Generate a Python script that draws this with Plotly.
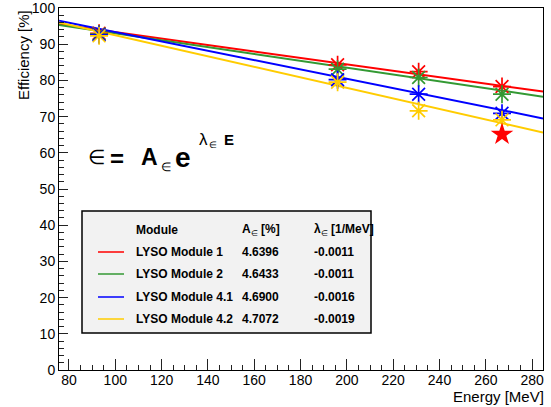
import plotly.graph_objects as go

# ---------------- data ----------------
energy = [93, 196, 231, 267]
modules = ["LYSO Module 1", "LYSO Module 2", "LYSO Module 4.1", "LYSO Module 4.2"]
eff_m1 = [93.0, 84.3, 82.4, 78.3]
eff_m2 = [92.8, 83.1, 80.8, 76.2]
eff_m41 = [92.6, 80.2, 76.2, 70.9]
eff_m42 = [92.3, 79.5, 71.6, 69.1]
efficiencies = [eff_m1, eff_m2, eff_m41, eff_m42]

fit_energy = [75.7, 284.7]
fit_m1 = [95.5, 76.9]
fit_m2 = [95.3, 75.5]
fit_m41 = [96.5, 69.5]
fit_m42 = [96.0, 65.6]
fits = [fit_m1, fit_m2, fit_m41, fit_m42]

a_values = ["4.6396", "4.6433", "4.6900", "4.7072"]
lambda_values = ["-0.0011", "-0.0011", "-0.0016", "-0.0019"]

special_energy = [267]
special_eff = [65.1]

colors = ["#ff0000", "#339933", "#0000ff", "#ffcc00"]

x_range = [75.7, 284.7]
y_range = [0, 100]

# ---------------- layout geometry ----------------
W, H = 551, 407
ML, MR, MT, MB = 59, 8, 8, 37
PW, PH = W - ML - MR, H - MT - MB


def px(xp):
    return (xp - ML) / PW


def py(yp):
    return (H - MB - yp) / PH


FONT = "Liberation Sans, Arial, sans-serif"

fig = go.Figure()

for i in range(len(modules)):
    fig.add_trace(go.Scatter(
        x=fit_energy, y=fits[i], mode="lines",
        line=dict(color=colors[i], width=2), showlegend=False, hoverinfo="skip"))

for i in range(len(modules)):
    fig.add_trace(go.Scatter(
        x=energy, y=efficiencies[i], mode="markers",
        marker=dict(symbol="asterisk-open", size=15, color=colors[i],
                    line=dict(color=colors[i], width=1.7)),
        showlegend=False, name=modules[i]))

fig.add_trace(go.Scatter(
    x=special_energy, y=special_eff, mode="markers",
    marker=dict(symbol="star", size=17, color="#ff0000", line=dict(width=0)),
    showlegend=False))

# ---------------- legend box ----------------
box = dict(x0=82, x1=371, y0=211, y1=333)
shapes = [dict(type="rect", xref="paper", yref="paper",
               x0=px(box["x0"]), x1=px(box["x1"]),
               y0=py(box["y1"]), y1=py(box["y0"]),
               line=dict(color="black", width=1.5), fillcolor="#f2f2f2",
               layer="below")]

annotations = []
header_y = 230
row_y = [252, 274, 297, 319]
col_name, col_a, col_l = 134, 240, 312


def txt(text, x, y, size=12, anchor="left", color="black"):
    annotations.append(dict(
        text=text, x=px(x), y=py(y), xref="paper", yref="paper",
        xanchor=anchor, yanchor="middle", showarrow=False,
        font=dict(family=FONT, size=size, color=color)))


txt("<b>Module</b>", col_name, header_y)
txt("<b>A</b><sub>∈</sub><b> [%]</b>", col_a, header_y)
txt("<b>λ</b><sub>∈</sub><b> [1/MeV]</b>", col_l, header_y)

for i in range(len(modules)):
    shapes.append(dict(type="line", xref="paper", yref="paper",
                       x0=px(98), x1=px(124), y0=py(row_y[i]), y1=py(row_y[i]),
                       line=dict(color=colors[i], width=1.5)))
    txt("<b>" + modules[i] + "</b>", col_name, row_y[i])
    txt("<b>" + a_values[i] + "</b>", col_a, row_y[i])
    txt("<b>" + lambda_values[i] + "</b>", col_l, row_y[i])

# ---------------- formula ----------------
txt("∈", 86, 157, size=20)
txt("<b>=</b>", 108, 158, size=24)
txt("<b>A</b>", 139, 157, size=23)
txt("∈", 159, 167, size=12)
txt("<b>e</b>", 173, 157, size=28)
txt("λ", 197, 139, size=17)
txt("∈", 207, 145, size=9)
txt("<b>E</b>", 222, 139, size=15)

fig.update_layout(
    width=W, height=H,
    margin=dict(l=ML, r=MR, t=MT, b=MB, autoexpand=False),
    paper_bgcolor="white", plot_bgcolor="white",
    font=dict(family=FONT, color="black"),
    shapes=shapes, annotations=annotations,
    xaxis=dict(range=x_range, tick0=80, dtick=20, ticks="inside", ticklen=11,
               tickcolor="#222", tickwidth=1, showgrid=False, zeroline=False,
               showline=True, linecolor="black", linewidth=1, mirror=True,
               tickfont=dict(size=14, family=FONT), ticklabeloverflow="allow",
               ticklabelstandoff=-3, automargin=False,
               minor=dict(dtick=5, tick0=80, ticks="inside", ticklen=5,
                          tickcolor="#222", showgrid=False)),
    yaxis=dict(range=y_range, tick0=0, dtick=10, ticks="inside", ticklen=9,
               tickcolor="#222", tickwidth=1, showgrid=False, zeroline=False,
               showline=True, linecolor="black", linewidth=1, mirror=True,
               tickfont=dict(size=14, family=FONT), ticklabeloverflow="allow",
               automargin=False,
               minor=dict(dtick=2, tick0=0, ticks="inside", ticklen=5,
                          tickcolor="#222", showgrid=False)),
)

# axis titles (ROOT style: aligned to the end of the axis)
fig.add_annotation(text="Energy [MeV]", xref="paper", yref="paper",
                   x=px(546), y=py(396), xanchor="right", yanchor="middle",
                   showarrow=False, font=dict(family=FONT, size=15, color="black"))
fig.add_annotation(text="Efficiency [%]", xref="paper", yref="paper",
                   x=px(23), y=py(8), xanchor="center", yanchor="top",
                   showarrow=False, textangle=-90,
                   font=dict(family=FONT, size=15, color="black"))

fig.write_html("out.html")
